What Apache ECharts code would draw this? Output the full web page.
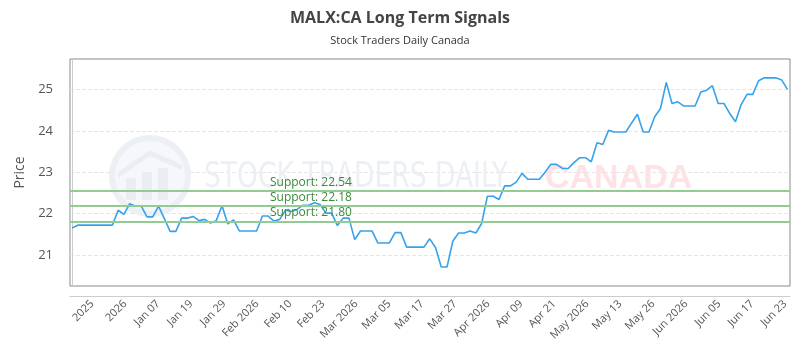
<!DOCTYPE html>
<html>
<head>
<meta charset="utf-8">
<script src="https://cdn.jsdelivr.net/npm/echarts@6/dist/echarts.min.js"></script>
<style>
html, body { margin: 0; padding: 0; background: #fff; }
#chart { width: 800px; height: 350px; }
</style>
</head>
<body>
<div id="chart"></div>
<script>
// daily closes, one per trading day
var prices = [
    21.65, 21.72, 21.72, 21.72, 21.72, 21.72, 21.72, 21.72, 22.08, 21.98,
    22.24, 22.18, 22.18, 21.92, 21.92, 22.18, 21.88, 21.57, 21.57, 21.89,
    21.89, 21.93, 21.83, 21.86, 21.77, 21.83, 22.19, 21.75, 21.85, 21.58,
    21.58, 21.58, 21.58, 21.94, 21.94, 21.82, 21.86, 22.08, 22.05, 22.10,
    22.20, 22.20, 22.26, 22.22, 22.01, 22.01, 21.71, 21.89, 21.89, 21.37,
    21.58, 21.58, 21.58, 21.29, 21.29, 21.29, 21.54, 21.54, 21.19, 21.19,
    21.19, 21.19, 21.39, 21.18, 20.71, 20.71, 21.33, 21.53, 21.53, 21.58,
    21.53, 21.76, 22.42, 22.42, 22.34, 22.67, 22.67, 22.76, 22.97, 22.83,
    22.83, 22.83, 23.00, 23.19, 23.19, 23.09, 23.09, 23.23, 23.35, 23.35,
    23.25, 23.71, 23.67, 24.01, 23.97, 23.97, 23.97, 24.19, 24.40, 23.97,
    23.97, 24.34, 24.54, 25.17, 24.66, 24.70, 24.60, 24.60, 24.60, 24.94,
    24.98, 25.09, 24.66, 24.66, 24.42, 24.22, 24.64, 24.88, 24.88, 25.21,
    25.28, 25.28, 25.28, 25.23, 25.00
];
var tickLabels = ['2025', '2026', 'Jan 07', 'Jan 19', 'Jan 29', 'Feb 2026', 'Feb 10', 'Feb 23',
    'Mar 2026', 'Mar 05', 'Mar 17', 'Mar 27', 'Apr 2026', 'Apr 09', 'Apr 21', 'May 2026',
    'May 13', 'May 26', 'Jun 2026', 'Jun 05', 'Jun 17', 'Jun 23'];
var supportLevels = [22.54, 22.18, 21.80];
var priceTicks = [21, 22, 23, 24, 25];

// labels sit evenly spaced along the axis
var tickPos = tickLabels.map(function (l, i) { return 3.5 + i * 5.72; });

function setChart() {
    var chartDom = document.getElementById('chart');
    var myChart = echarts.init(chartDom);
    var font = '"Open Sans", "DejaVu Sans", sans-serif';
    var option = {
        animation: false,
        title: {
            left: 'center',
            top: 5,
            text: 'MALX:CA Long Term Signals',
            subtext: 'Stock Traders Daily Canada',
            itemGap: 9,
            textStyle: {fontFamily: font, fontSize: 16, fontWeight: 'bold', color: '#444'},
            subtextStyle: {fontFamily: font, fontSize: 11, color: '#333'}
        },
        graphic: [
            // faint watermark behind the line
            {type: 'circle', z: 1, silent: true, shape: {cx: 150, cy: 176, r: 38},
                style: {fill: '#f5f7fa', stroke: '#eceff4', lineWidth: 6}},
            {type: 'rect', z: 1, silent: true, shape: {x: 126, y: 178, width: 10, height: 22},
                style: {fill: '#eaeef3'}},
            {type: 'rect', z: 1, silent: true, shape: {x: 142, y: 172, width: 10, height: 28},
                style: {fill: '#eaeef3'}},
            {type: 'rect', z: 1, silent: true, shape: {x: 158, y: 168, width: 10, height: 32},
                style: {fill: '#eaeef3'}},
            {type: 'polygon', z: 1, silent: true, shape: {points: [[118, 172], [150, 150], [182, 165], [182, 170], [150, 156], [118, 178]]},
                style: {fill: '#eaeef3'}},
            {type: 'text', z: 1, silent: true, x: 204, y: 160, scaleX: 0.82,
                style: {text: 'STOCK TRADERS DAILY', fill: '#eceff4',
                    font: '36px "DejaVu Sans Condensed", "Liberation Sans Narrow", sans-serif'}},
            {type: 'text', z: 1, silent: true, x: 545, y: 162,
                style: {text: 'CANADA', fill: '#fde3e6',
                    font: 'bold 34px "Liberation Sans", Arial, sans-serif'}}
        ],
        grid: {
            left: 70,
            right: 10,
            top: 59,
            bottom: 64,
            show: true,
            borderColor: '#8a8a8a',
            borderWidth: 1,
            backgroundColor: 'transparent'
        },
        xAxis: {
            type: 'value',
            min: -0.35,
            max: 124.45,
            offset: 10,
            axisLine: {show: true, lineStyle: {color: '#cccccc'}},
            axisTick: {show: false},
            splitLine: {show: false},
            axisLabel: {
                customValues: tickPos,
                rotate: 45,
                margin: 6,
                fontFamily: font,
                fontSize: 11,
                color: '#555',
                formatter: function (val) {
                    var best = 0;
                    for (var i = 0; i < tickPos.length; i++) {
                        if (Math.abs(tickPos[i] - val) < Math.abs(tickPos[best] - val)) best = i;
                    }
                    return tickLabels[best];
                }
            }
        },
        yAxis: {
            type: 'value',
            min: 20.25,
            max: 25.735,
            offset: 10,
            name: 'Price',
            nameLocation: 'middle',
            nameGap: 29,
            nameTextStyle: {fontFamily: font, fontSize: 14, color: '#555'},
            axisLine: {show: true, lineStyle: {color: '#cccccc'}},
            axisTick: {show: false, customValues: priceTicks},
            axisLabel: {customValues: priceTicks, margin: 7, fontFamily: font, fontSize: 13, color: '#555'},
            splitLine: {show: true, lineStyle: {color: '#e6e6e6', type: 'dashed'}}
        },
        series: [
            {
                type: 'line',
                z: 3,
                showSymbol: false,
                data: prices.map(function (v, i) { return [i, v]; }),
                lineStyle: {color: '#36a2eb', width: 1.6},
                itemStyle: {color: '#36a2eb'},
                markLine: {
                    silent: true,
                    symbol: ['none', 'none'],
                    lineStyle: {color: '#93cc93', width: 2, type: 'solid'},
                    label: {
                        position: 'insideStartTop',
                        distance: [200, 3],
                        fontFamily: font,
                        fontSize: 12,
                        color: '#3b8a3b',
                        formatter: function (p) { return 'Support: ' + p.value.toFixed(2); }
                    },
                    data: supportLevels.map(function (v) { return {yAxis: v}; })
                }
            }
        ]
    };
    option && myChart.setOption(option);
}
setChart();
</script>
</body>
</html>
